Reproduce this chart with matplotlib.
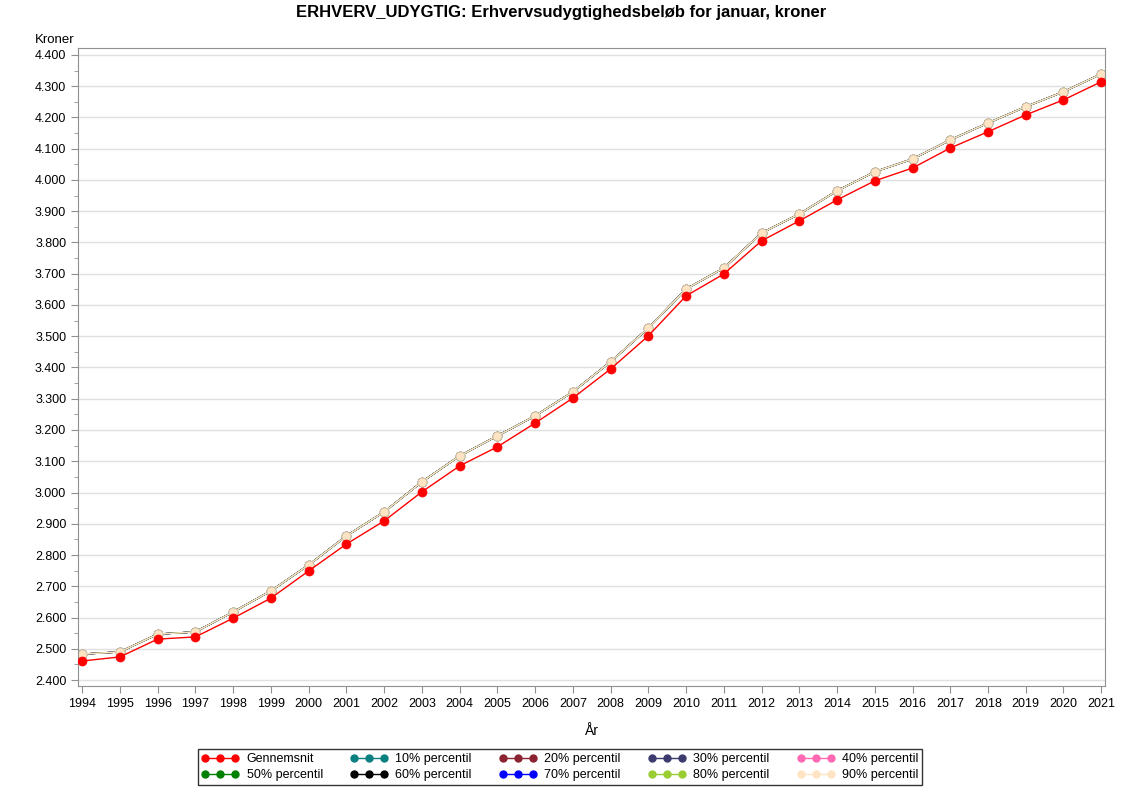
import matplotlib
matplotlib.use("Agg")
import matplotlib.pyplot as plt
from matplotlib.ticker import FuncFormatter, MultipleLocator

plt.rcParams["font.family"] = ["Liberation Sans", "DejaVu Sans"]

aar = list(range(1994, 2022))

gennemsnit = [2461, 2474, 2531, 2538, 2598, 2662, 2749, 2835, 2909, 3002,
              3085, 3146, 3222, 3302, 3395, 3501, 3629, 3699, 3805, 3869,
              3936, 3997, 4038, 4102, 4154, 4208, 4256, 4314]

percentil = [2483, 2490, 2547, 2554, 2618, 2685, 2768, 2861, 2938, 3034,
             3117, 3181, 3245, 3322, 3418, 3526, 3651, 3718, 3830, 3891,
             3965, 4026, 4067, 4128, 4182, 4234, 4282, 4339]

serier = ["Gennemsnit", "10% percentil", "20% percentil", "30% percentil",
          "40% percentil", "50% percentil", "60% percentil", "70% percentil",
          "80% percentil", "90% percentil"]
farver = ["#ff0000", "#0b8080", "#8b2332", "#3b3b6e", "#ff69b4",
          "#008000", "#000000", "#0000ff", "#9acd32", "#ffe4c4"]
vaerdier = [gennemsnit] + [percentil] * 9

fig = plt.figure(figsize=(11.22, 7.93), dpi=100)
ax = fig.add_axes([78 / 1122, 1 - 686 / 793, 1027 / 1122, 638 / 793])

for navn, farve, v in zip(serier, farver, vaerdier):
    rod = navn == "Gennemsnit"
    ax.plot(aar, v, color=farve, lw=1.0, marker="o",
            markersize=6.5, markerfacecolor=farve,
            markeredgecolor=farve if rod else "#c8bca8",
            markeredgewidth=0.5, zorder=3 if rod else 2)

ax.set_xlim(1993.89, 2021.1)
ax.set_ylim(2381, 4422)
ax.set_xticks(aar)
ax.yaxis.set_major_locator(MultipleLocator(100))
ax.yaxis.set_minor_locator(MultipleLocator(50))
ax.yaxis.set_major_formatter(FuncFormatter(lambda v, p: f"{v:,.0f}".replace(",", ".")))
ax.grid(axis="y", which="major", color="#e0e0e0", lw=1)
ax.set_axisbelow(True)

for s in ax.spines.values():
    s.set_color("#909090")
ax.tick_params(axis="both", which="both", colors="#909090", labelcolor="black",
               labelsize=9)
ax.tick_params(axis="both", which="major", length=5)
ax.tick_params(axis="y", which="minor", length=3)

ax.set_xlabel("År", fontsize=10, labelpad=10)
fig.text(35 / 1122, 1 - 40 / 793, "Kroner", fontsize=9.5, ha="left", va="center")
fig.text(0.5, 1 - 12 / 793, "ERHVERV_UDYGTIG: Erhvervsudygtighedsbeløb for januar, kroner",
         fontsize=12, fontweight="bold", ha="center", va="center")

# legend filled row by row like the original
leg_h = []
for farve in farver:
    (h,) = ax.plot([], [], color=farve, lw=1.0, marker="o", markersize=5)
    leg_h.append(h)
orden = [0, 5, 1, 6, 2, 7, 3, 8, 4, 9]
leg = fig.legend([leg_h[i] for i in orden], [serier[i] for i in orden],
                 loc="center", bbox_to_anchor=(560 / 1122, 1 - 767 / 793),
                 ncol=5, numpoints=3, handlelength=3.0, handletextpad=0.6,
                 columnspacing=2.2, fontsize=9, frameon=True, fancybox=False,
                 edgecolor="black", labelspacing=0.3, borderpad=0.3)
leg.get_frame().set_linewidth(1)

fig.savefig("out.png", dpi=100)
